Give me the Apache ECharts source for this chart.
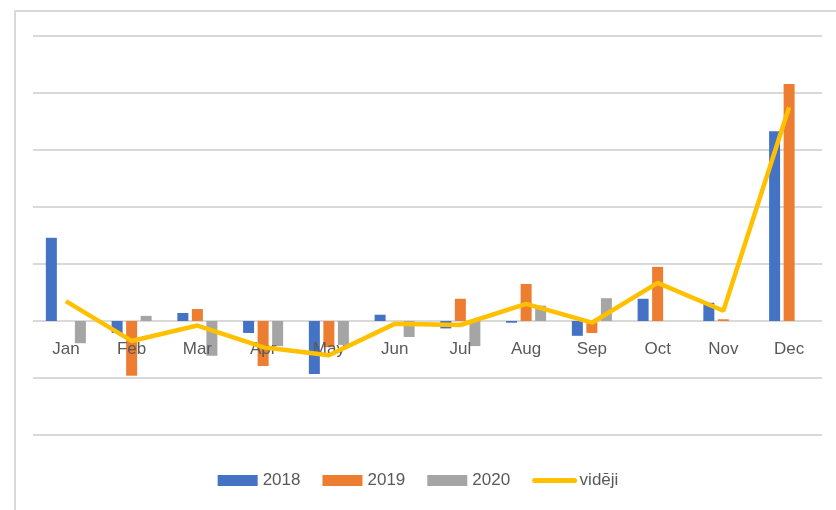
<!DOCTYPE html>
<html style="height: 100%">
<head>
    <meta charset="UTF-8">
    <title>vidēji</title>
</head>
<body style="height: 100%; margin: 0; background: #fff">
<div id="frame" style="position:absolute; left:14px; top:10px; right:0; bottom:0; border-left:2px solid #d9d9d9; border-top:2px solid #d9d9d9;"></div>
<div id="container" style="position:absolute; left:0; top:0; width:836px; height:510px"></div>
<script src="https://cdn.jsdelivr.net/npm/echarts@6/dist/echarts.min.js"></script>
<script>
    var months = ['Jan', 'Feb', 'Mar', 'Apr', 'May', 'Jun', 'Jul', 'Aug', 'Sep', 'Oct', 'Nov', 'Dec'];
    var y2018 = [14.6, -2.1, 1.4, -2.1, -9.3, 1.1, -1.3, -0.3, -2.6, 3.9, 3.2, 33.3];
    var y2019 = [0, -9.6, 2.1, -7.9, -4.6, 0, 3.9, 6.5, -2.1, 9.5, 0.3, 41.6];
    var y2020 = [-3.9, 0.9, -6.1, -4.4, -4.2, -2.8, -4.4, 2.7, 4.0, null, null, null];
    var videji = [3.5, -3.5, -0.8, -4.6, -6.0, -0.5, -0.7, 3.0, -0.3, 6.7, 1.8, 37.5];

    var myChart = echarts.init(document.getElementById('container'));
    var textColor = '#595959';
    var font = 'Liberation Sans';
    var option = {
        animation: false,
        color: ['#4472C4', '#ED7D31', '#A5A5A5', '#FFC000'],
        grid: { left: 33, right: 14, top: 36, bottom: 75 },
        legend: {
            bottom: 16,
            left: 'center',
            itemWidth: 40,
            itemHeight: 11,
            itemGap: 22,
            textStyle: { color: textColor, fontSize: 17, fontFamily: font },
            data: [
                { name: '2018', icon: 'rect' },
                { name: '2019', icon: 'rect' },
                { name: '2020', icon: 'rect' },
                { name: 'vidēji', itemStyle: { opacity: 0 }, lineStyle: { width: 5, cap: 'round' } }
            ]
        },
        xAxis: {
            type: 'category',
            data: months,
            position: 'bottom',
            offset: -114,
            z: 3,
            axisLine: { show: false, onZero: false },
            axisTick: { show: false },
            axisLabel: { color: textColor, fontSize: 17, margin: 20, fontFamily: font }
        },
        yAxis: {
            type: 'value',
            min: -20,
            max: 50,
            interval: 10,
            axisLabel: { show: false },
            axisLine: { show: false },
            axisTick: { show: false },
            splitLine: { lineStyle: { color: '#d9d9d9', width: 2 } }
        },
        series: [
            { name: '2018', type: 'bar', data: y2018, barWidth: 11, barGap: '32%' },
            { name: '2019', type: 'bar', data: y2019, barWidth: 11, barGap: '32%' },
            { name: '2020', type: 'bar', data: y2020, barWidth: 11, barGap: '32%' },
            {
                name: 'vidēji', type: 'line', data: videji,
                symbol: 'none', z: 5,
                lineStyle: { width: 4.5, color: '#FFC000' }
            }
        ]
    };
    myChart.setOption(option);
</script>
</body>
</html>
